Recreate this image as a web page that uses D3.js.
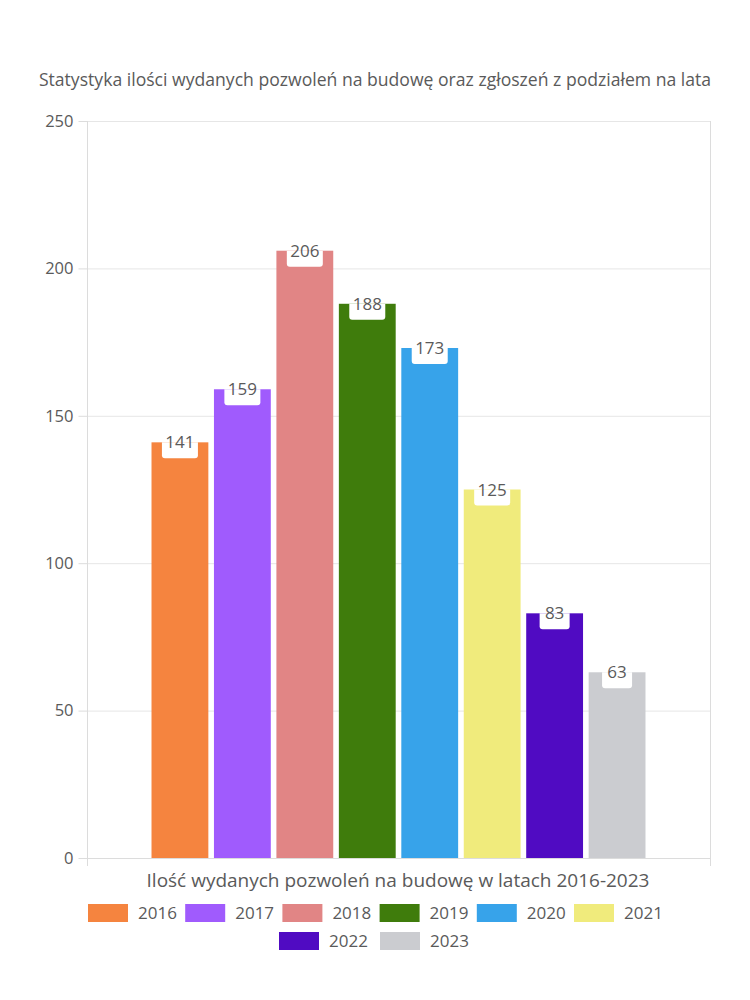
<!DOCTYPE html>
<html><head><meta charset="utf-8">
<script src="https://cdn.jsdelivr.net/npm/d3@7"></script>
<style>body{margin:0;background:#fff}text{font-family:"Open Sans",sans-serif;fill:#5a5a5a}</style>
</head><body><svg id="c" width="750" height="1000"></svg>
<script>
const title = "Statystyka ilości wydanych pozwoleń na budowę oraz zgłoszeń z podziałem na lata";
const category = "Ilość wydanych pozwoleń na budowę w latach 2016-2023";
const years = ["2016","2017","2018","2019","2020","2021","2022","2023"];
const values = [141,159,206,188,173,125,83,63];
const colors = ["#f5843f","#a05bfd","#e18585","#3f7c0c","#37a3ea","#f0eb7c","#500bc2","#cbccd0"];
const yTicks = [0,50,100,150,200,250];

const svg = d3.select("#c");
const L=87,R=710,T=121,B=858;
const y = d3.scaleLinear().domain([0,250]).range([B,T]);
const x0 = d3.scaleBand().domain([category]).range([L,R]).paddingInner(0).paddingOuter(0.1306);
const x1 = d3.scaleBand().domain(years).range([0,x0.bandwidth()]).paddingInner(0.09).paddingOuter(0);
const col = d3.scaleOrdinal().domain(years).range(colors);

svg.append("text").attr("x",375).attr("y",86).attr("text-anchor","middle")
  .style("font-size","17.6px").text(title);

// grid
svg.append("g").selectAll("line").data(yTicks.filter(d=>d>0)).join("line")
  .attr("x1",L).attr("x2",R).attr("y1",d=>y(d)+0.5).attr("y2",d=>y(d)+0.5)
  .attr("stroke","#e6e6e6");

// y axis
const ya = svg.append("g").attr("transform",`translate(${L+0.5},0)`)
  .call(d3.axisLeft(y).tickValues(yTicks).tickSize(9).tickPadding(5));
ya.select(".domain").remove();
ya.selectAll(".tick line").attr("stroke","#dcdcdc");
ya.selectAll(".tick text").style("font-size","16.5px").style("font-family","'Open Sans',sans-serif").attr("fill","#5a5a5a");

// axis lines
svg.append("line").attr("x1",L+0.5).attr("x2",L+0.5).attr("y1",T).attr("y2",866).attr("stroke","#dcdcdc");
svg.append("line").attr("x1",R+0.5).attr("x2",R+0.5).attr("y1",T).attr("y2",866).attr("stroke","#dcdcdc");
svg.append("line").attr("x1",L).attr("x2",R).attr("y1",B+0.5).attr("y2",B+0.5).attr("stroke","#dcdcdc");

// bars
const g = svg.append("g").attr("transform",`translate(${x0(category)},0)`);
const bars = g.selectAll("g.bar").data(years.map((yr,i)=>({yr,v:values[i]}))).join("g").attr("class","bar");
bars.append("rect").attr("x",d=>x1(d.yr)).attr("y",d=>y(d.v)).attr("width",x1.bandwidth())
  .attr("height",d=>B-y(d.v)).attr("fill",d=>col(d.yr));
// label boxes (rounded bottom corners)
bars.append("path").attr("fill","#fff").attr("d",d=>{
  const w = String(d.v).length>2?36:30, h=16, r=3;
  const cx = x1(d.yr)+x1.bandwidth()/2, t=y(d.v);
  const l=cx-w/2, rr=cx+w/2;
  return `M${l},${t}H${rr}V${t+h-r}Q${rr},${t+h} ${rr-r},${t+h}H${l+r}Q${l},${t+h} ${l},${t+h-r}Z`;
});
bars.append("text").attr("x",d=>x1(d.yr)+x1.bandwidth()/2).attr("y",d=>y(d.v)+6)
  .attr("text-anchor","middle").style("font-size","17px").text(d=>d.v);

// x axis title
svg.append("text").attr("x",398).attr("y",887).attr("text-anchor","middle")
  .style("font-size","19px").text(category);

// legend
const row1 = years.slice(0,6), row2 = years.slice(6);
function legendRow(items, startX, yTop, step){
  const lg = svg.append("g");
  items.forEach((yr,i)=>{
    const gx = startX + i*step;
    lg.append("rect").attr("x",gx).attr("y",yTop).attr("width",40).attr("height",18).attr("fill",col(yr));
    lg.append("text").attr("x",gx+50).attr("y",yTop+15).style("font-size","17px").text(yr);
  });
}
legendRow(row1, 88, 904, 97.2);
legendRow(row2, 279, 932, 101);
</script></body></html>
